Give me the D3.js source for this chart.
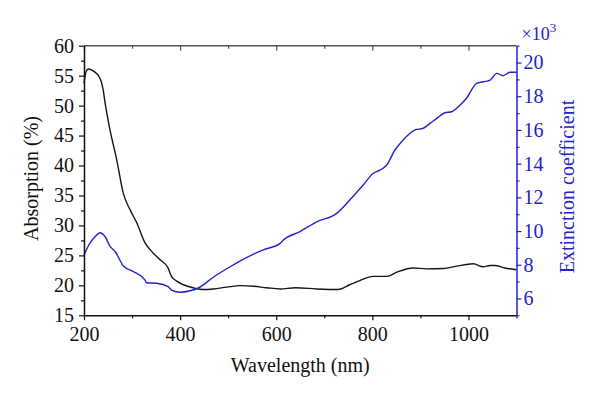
<!DOCTYPE html>
<html>
<head>
<meta charset="utf-8">
<script src="https://cdn.jsdelivr.net/npm/d3@7"></script>
<style>
  body { margin: 0; background: #fff; }
  svg, text { font-family: "Liberation Serif", "Times New Roman", "DejaVu Serif", serif; }
</style>
</head>
<body>
<div id="chart"></div>
<script>
// wavelength (nm) / absorption (%) - black curve, left axis
var absWave = [200, 204, 209, 219, 233, 240, 244, 254, 268, 282, 296, 310, 327, 337, 358, 375, 382, 393, 407, 427,
  448, 469, 497, 525, 552, 580, 608, 640, 684, 729, 753, 774, 802, 830, 851, 885, 913, 948, 975, 1010,
  1031, 1045, 1055, 1076, 1100];
var absValue = [53.7, 55.6, 56.1, 55.8, 54.6, 52.6, 50.4, 46.0, 41.0, 35.3, 32.6, 30.4, 27.1, 26.0, 24.3, 22.9, 21.5, 20.7, 20.1, 19.6,
  19.3, 19.4, 19.7, 19.95, 19.85, 19.6, 19.4, 19.6, 19.4, 19.3, 20.1, 20.8, 21.5, 21.5, 22.2, 22.9, 22.75, 22.8, 23.2, 23.6,
  23.1, 23.3, 23.3, 22.9, 22.6];

// wavelength (nm) / extinction coefficient (x10^3) - blue curve, right axis
var extWave = [200, 212, 223, 233, 244, 254, 265, 282, 303, 327, 330, 351, 375, 382, 400, 421, 438, 469, 504, 539,
  573, 608, 615, 649, 684, 726, 753, 781, 802, 816, 830, 847, 864, 889, 906, 920, 934, 951, 965, 979,
  996, 1017, 1031, 1045, 1059, 1072, 1086, 1100];
var extValue = [8.58, 9.27, 9.66, 9.90, 9.66, 9.11, 8.77, 7.93, 7.59, 7.09, 6.93, 6.90, 6.70, 6.50, 6.37, 6.46, 6.62, 7.26, 7.88, 8.44,
  8.88, 9.27, 9.47, 9.96, 10.55, 11.05, 11.84, 12.73, 13.43, 13.62, 13.92, 14.81, 15.40, 16.00, 16.10, 16.39, 16.69, 17.02, 17.08, 17.38,
  17.88, 18.77, 18.86, 18.96, 19.36, 19.22, 19.42, 19.42];

// tick values
var xMajor = [200, 400, 600, 800, 1000];
var xMinor = [300, 500, 700, 900, 1100];
var yLeftMajor = [15, 20, 25, 30, 35, 40, 45, 50, 55, 60];
var yLeftMinor = [17.5, 22.5, 27.5, 32.5, 37.5, 42.5, 47.5, 52.5, 57.5];
var yRightMajor = [6, 8, 10, 12, 14, 16, 18, 20];
var yRightMinor = [5, 7, 9, 11, 13, 15, 17, 19, 21];

var blue = "#2323cc";
var serif = "Liberation Serif";

var margin = { top: 45.7, right: 83.5, bottom: 80.7, left: 84 },
  width = 600 - margin.left - margin.right,
  height = 396 - margin.top - margin.bottom;

var svg = d3.select("#chart")
  .append("svg")
  .attr("width", 600)
  .attr("height", 396)
  .append("g")
  .attr("transform", "translate(" + margin.left + "," + margin.top + ")");

var x = d3.scaleLinear().domain([200, 1100]).range([0, width]);
var yL = d3.scaleLinear().domain([15, 60]).range([height, 0]);
var yR = d3.scaleLinear().domain([5, 21]).range([height, 0]);

var absData = absWave.map(function (w, i) { return { w: w, v: absValue[i] }; });
var extData = extWave.map(function (w, i) { return { w: w, v: extValue[i] }; });

// curves
var lineL = d3.line()
  .x(function (d) { return x(d.w); })
  .y(function (d) { return yL(d.v); })
  .curve(d3.curveMonotoneX);
var lineR = d3.line()
  .x(function (d) { return x(d.w); })
  .y(function (d) { return yR(d.v); })
  .curve(d3.curveMonotoneX);

svg.append("path")
  .datum(absData)
  .attr("fill", "none")
  .attr("stroke", "#151515")
  .attr("stroke-width", 1.4)
  .attr("d", lineL);

svg.append("path")
  .datum(extData)
  .attr("fill", "none")
  .attr("stroke", blue)
  .attr("stroke-width", 1.4)
  .attr("d", lineR);

// top frame line with inner ticks
svg.append("line")
  .attr("x1", 0).attr("x2", width).attr("y1", 0).attr("y2", 0)
  .attr("stroke", "#555").attr("stroke-width", 1.5);
svg.append("g")
  .call(d3.axisTop(x).tickValues(xMajor).tickSize(-5).tickFormat(""))
  .call(function (g) { g.select(".domain").remove(); g.selectAll("line").attr("stroke", "#555").attr("stroke-width", 1.2); });
svg.append("g")
  .call(d3.axisTop(x).tickValues(xMinor.slice(0, -1)).tickSize(-3).tickFormat(""))
  .call(function (g) { g.select(".domain").remove(); g.selectAll("line").attr("stroke", "#555").attr("stroke-width", 1.2); });

// bottom axis
var gx = svg.append("g")
  .attr("transform", "translate(0," + height + ")")
  .call(d3.axisBottom(x).tickValues(xMajor).tickFormat(d3.format("d")).tickSizeInner(5).tickSizeOuter(0).tickPadding(7));
gx.attr("font-family", serif);
gx.select(".domain").attr("stroke", "#111").attr("stroke-width", 1.5);
gx.selectAll("line").attr("stroke", "#111").attr("stroke-width", 1.2);
gx.selectAll("text").attr("font-size", 20).attr("fill", "#111");
svg.append("g")
  .attr("transform", "translate(0," + height + ")")
  .call(d3.axisBottom(x).tickValues(xMinor).tickSize(3).tickFormat(""))
  .call(function (g) { g.select(".domain").remove(); g.selectAll("line").attr("stroke", "#111").attr("stroke-width", 1.2); });

// left axis
var gy = svg.append("g")
  .call(d3.axisLeft(yL).tickValues(yLeftMajor).tickSizeInner(5).tickSizeOuter(0).tickPadding(5));
gy.attr("font-family", serif);
gy.select(".domain").attr("stroke", "#111").attr("stroke-width", 1.5);
gy.selectAll("line").attr("stroke", "#111").attr("stroke-width", 1.2);
gy.selectAll("text").attr("font-size", 20).attr("fill", "#111");
svg.append("g")
  .call(d3.axisLeft(yL).tickValues(yLeftMinor).tickSize(3).tickFormat(""))
  .call(function (g) { g.select(".domain").remove(); g.selectAll("line").attr("stroke", "#111").attr("stroke-width", 1.2); });

// right axis (blue)
var gr = svg.append("g")
  .attr("transform", "translate(" + width + ",0)")
  .call(d3.axisRight(yR).tickValues(yRightMajor).tickSizeInner(5).tickSizeOuter(0).tickPadding(2));
gr.attr("font-family", serif);
gr.select(".domain").attr("stroke", blue).attr("stroke-width", 1.5);
gr.selectAll("line").attr("stroke", blue).attr("stroke-width", 1.2);
gr.selectAll("text").attr("font-size", 20).attr("fill", blue);
svg.append("g")
  .attr("transform", "translate(" + width + ",0)")
  .call(d3.axisRight(yR).tickValues(yRightMinor).tickSize(3).tickFormat(""))
  .call(function (g) { g.select(".domain").remove(); g.selectAll("line").attr("stroke", blue).attr("stroke-width", 1.2); });

// x10^3 multiplier
var mult = svg.append("text")
  .attr("x", width + 5)
  .attr("y", -6)
  .attr("font-size", 18)
  .attr("fill", blue);
mult.append("tspan").text("\u00d710");
mult.append("tspan").attr("font-size", 13).attr("dy", -8).text("3");

// axis titles
svg.append("text")
  .attr("x", width / 2)
  .attr("y", height + 57)
  .attr("text-anchor", "middle")
  .attr("font-size", 20)
  .attr("fill", "#111")
  .text("Wavelength (nm)");

svg.append("text")
  .attr("transform", "translate(" + (38 - margin.left) + "," + (height / 2 - 2) + ") rotate(-90)")
  .attr("text-anchor", "middle")
  .attr("font-size", 20)
  .attr("fill", "#111")
  .text("Absorption (%)");

svg.append("text")
  .attr("transform", "translate(" + (574 - margin.left) + "," + (height / 2 + 6) + ") rotate(-90)")
  .attr("text-anchor", "middle")
  .attr("font-size", 20)
  .attr("fill", blue)
  .text("Extinction coefficient");
</script>
</body>
</html>
